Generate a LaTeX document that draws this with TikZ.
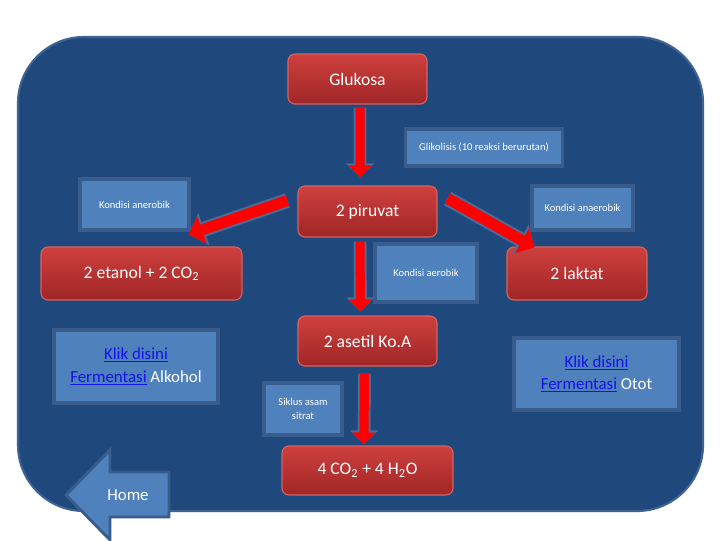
\documentclass[tikz,border=0pt]{standalone}
\usepackage{fontspec}
\setmainfont{Carlito}
\usetikzlibrary{arrows.meta,calc}
\definecolor{PanelClr}{RGB}{31,73,125}
\definecolor{PanelEdge}{RGB}{62,98,145}
\definecolor{BoxClr}{RGB}{79,129,189}
\definecolor{BoxEdge}{RGB}{56,93,140}
\definecolor{StepTop}{RGB}{206,64,62}
\definecolor{StepBot}{RGB}{160,38,38}
\definecolor{StepEdge}{RGB}{214,98,96}
\definecolor{ArrowRed}{RGB}{255,0,0}
\definecolor{ArrowEdge}{RGB}{78,106,150}
\definecolor{LinkClr}{RGB}{20,20,230}
\newcommand{\linktxt}[1]{\textcolor{LinkClr}{\underline{#1}}}

\tikzset{
  stepbox/.style={rounded corners=5pt,top color=StepTop,bottom color=StepBot,
    draw=StepEdge,line width=0.8pt,text=white,inner sep=0pt,
    font=\fontsize{12.5}{14}\selectfont},
  notebox/.style={fill=BoxClr,draw=BoxEdge,line width=2.2pt,text=white,
    inner sep=0pt,align=center,font=\fontsize{7.5}{10}\selectfont},
  linkbox/.style={notebox,font=\fontsize{12}{16}\selectfont},
  thinflow/.style={draw=ArrowRed,line width=6.4pt,-{Triangle[width=16pt,length=8.5pt]},
    preaction={draw=ArrowEdge,line width=9.2pt,-{Triangle[width=19.5pt,length=10pt]}}},
  fatflow/.style={draw=ArrowRed,line width=7.8pt,-{Triangle[width=20pt,length=10pt]},
    preaction={draw=ArrowEdge,line width=10.7pt,-{Triangle[width=23.5pt,length=11.5pt]}}}
}

\begin{document}
\begin{tikzpicture}[x=0.025cm,y=-0.025cm]
\useasboundingbox[fill=white] (0,0) rectangle (720,540);
\draw[fill=PanelClr,draw=PanelEdge,line width=1.5pt,rounded corners=1.65cm] (18,37) rectangle (703,511);

% main steps
\node[stepbox,minimum width=3.475cm,minimum height=1.25cm] (glukosa) at (357.5,79) {Glukosa};
\node[stepbox,minimum width=3.475cm,minimum height=1.275cm] (piruvat) at (367.5,211.5) {2 piruvat};
\node[stepbox,minimum width=5.025cm,minimum height=1.325cm] (etanol) at (141.5,273.5) {2 etanol + 2 CO\textsubscript{2}};
\node[stepbox,minimum width=3.5cm,minimum height=1.325cm] (laktat) at (577,273.5) {2 laktat};
\node[stepbox,minimum width=3.475cm,minimum height=1.25cm] (asetil) at (367.5,341) {2 asetil Ko.A};
\node[stepbox,minimum width=4.275cm,minimum height=1.225cm] (co2) at (367.5,470.5) {4 CO\textsubscript{2} + 4 H\textsubscript{2}O};

% notes
\node[notebox,minimum width=3.925cm,minimum height=0.925cm] (glikolisis) at (484,147.5) {Glikolisis (10 reaksi berurutan)};
\node[notebox,minimum width=2.725cm,minimum height=1.275cm] (anerobik) at (134.5,204.5) {Kondisi anerobik};
\node[notebox,minimum width=2.525cm,minimum height=1.1cm] (anaerobik) at (582.5,208) {Kondisi anaerobik};
\node[notebox,minimum width=2.55cm,minimum height=1.45cm] (aerobik) at (426,273) {Kondisi aerobik};
\node[notebox,minimum width=1.95cm,minimum height=1.3cm] (siklus) at (303,409) {Siklus asam\\sitrat};
\node[linkbox,minimum width=4.1cm,minimum height=1.825cm] (alkohol) at (136,366.5) {\linktxt{Klik disini}\\\linktxt{Fermentasi} Alkohol};
\node[linkbox,minimum width=4.125cm,minimum height=1.8cm] (otot) at (596.5,374) {\linktxt{Klik disini}\\\linktxt{Fermentasi} Otot};

% home button
\draw[fill=BoxClr,draw=BoxEdge,line width=2pt] (66,495) -- (110,450) -- (110,472) -- (169,472)
  -- (169,517) -- (110,517) -- (110,540) -- cycle;
\node[text=white,font=\fontsize{12}{14}\selectfont] (home) at (128,495.5) {Home};

% arrows
\draw[thinflow] ($(glukosa.south)+(2.5,3)$) -- ($(piruvat.north)+(-7.5,-8)$);
\draw[fatflow] ($(piruvat.west)+(-10,-11)$) -- ($(etanol.north east)+(-54,-12)$);
\draw[fatflow] ($(piruvat.east)+(10,-13)$) -- ($(laktat.north west)+(28,1)$);
\draw[thinflow] ($(piruvat.south)+(-7.5,4)$) -- ($(asetil.north)+(-7,-4)$);
\draw[thinflow] ($(asetil.south)+(-3,7)$) -- ($(co2.north)+(-3.5,-1)$);

\end{tikzpicture}
\end{document}
